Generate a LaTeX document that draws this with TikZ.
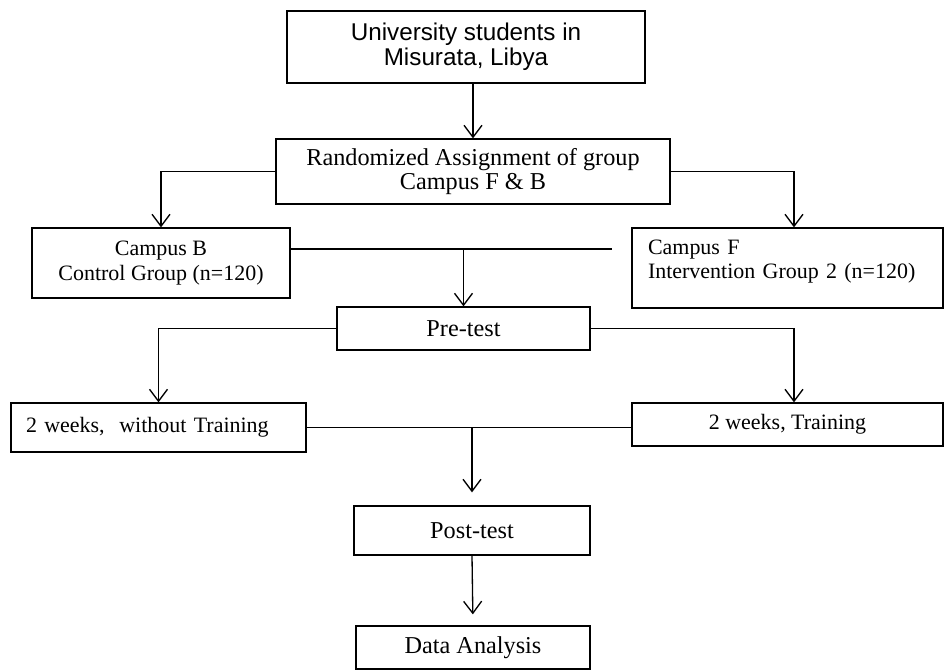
\documentclass[tikz,border=0pt]{standalone}
\usepackage{fontspec}
\setmainfont{Liberation Serif}
\newfontfamily\arialfont{Liberation Sans}
\usetikzlibrary{arrows.meta}

\begin{document}
\begin{tikzpicture}[x=0.02cm, y=-0.02cm, every node/.style={font=\fontsize{12.5}{14}\selectfont},
  box/.style={draw, line width=0.75pt, inner sep=0pt, align=center},
  bigbox/.style={box, font=\fontsize{13.8}{13.2}\selectfont},
  arr/.style={-{Straight Barb[length=0.24cm, width=0.36cm]}, line width=0.75pt}]
  \useasboundingbox (0,0) rectangle (944,670);
  \node[box, font=\arialfont\fontsize{13.8}{14.3}\selectfont, minimum width=7.16cm, minimum height=1.44cm] (students) at (466,47) {University students in\\Misurata, Libya};
  \node[bigbox, minimum width=7.88cm, minimum height=1.30cm] (assign) at (473,171.5) {Randomized Assignment of group\\Campus F \& B};
  \node[box, minimum width=5.16cm, minimum height=1.40cm] (campB) at (161,263) {Campus B\\Control Group (n=120)};
  \node[box, align=left, text width=5.58cm, minimum width=6.22cm, minimum height=1.60cm] (campF) at (787.5,268) {Campus F\\Intervention Group 2 (n=120)\\[-4pt]\mbox{}};
  \node[bigbox, minimum width=5.06cm, minimum height=0.86cm] (pre) at (463.5,328.5) {Pre-test};
  \node[box, align=left, text width=5.3cm, minimum width=5.9cm, minimum height=0.98cm] (without) at (158.5,427.5) {2 weeks,\ \ without Training};
  \node[box, minimum width=6.22cm, minimum height=0.86cm] (training) at (787.5,424.5) {2 weeks, Training};
  \node[bigbox, minimum width=4.72cm, minimum height=0.98cm] (post) at (472,530.5) {Post-test};
  \node[bigbox, minimum width=4.68cm, minimum height=0.86cm] (analysis) at (473,647.5) {Data Analysis};
  \coordinate (cbEnd) at (612,249);
  \draw[arr] (assign.north |- students.south) -- (assign.north);
  \draw[arr] (assign.west) -| (campB.north);
  \draw[arr] (assign.east) -| ([xshift=0.13cm]campF.north);
  \draw[line width=0.75pt] (campB.east |- cbEnd) -- (cbEnd);
  \draw[arr] (pre.north |- cbEnd) -- (pre.north);
  \draw[arr] (pre.west) -| (without.north);
  \draw[arr] (pre.east) -| ([xshift=0.13cm]training.north);
  \draw[line width=0.75pt] (without.east) -- (without.east -| training.west);
  \draw[arr, shorten >=0.26cm] (post.north |- without.east) -- (post.north);
  \draw[arr, shorten >=0.22cm] (post.south) -- (analysis.north);
\end{tikzpicture}
\end{document}
